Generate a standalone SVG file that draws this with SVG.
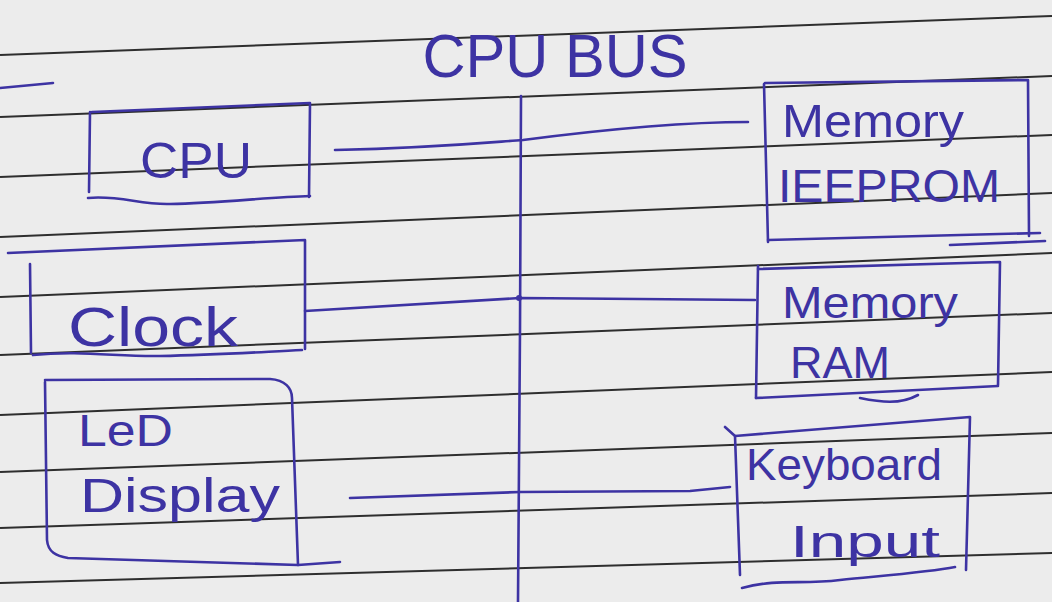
<svg xmlns="http://www.w3.org/2000/svg" width="1052" height="602" viewBox="0 0 1052 602">
<style>
.ink{fill:none;stroke:#3d33a3;stroke-width:2.6;stroke-linecap:round;stroke-linejoin:round}
.rule{fill:none;stroke:#2e2e2e;stroke-width:2}
.t{font-family:"Liberation Sans",Arial,sans-serif;fill:#3d33a3;font-weight:normal}
</style>
<rect width="1052" height="602" fill="#ececec"/>
<g id="paper-rules">
<path class="rule" d="M0 55 L1052 16"/>
<path class="rule" d="M0 117 L1052 76"/>
<path class="rule" d="M0 177 L1052 135"/>
<path class="rule" d="M0 237 L1052 193"/>
<path class="rule" d="M0 297 L1052 253"/>
<path class="rule" d="M0 355 L1052 313"/>
<path class="rule" d="M0 415 L1052 372"/>
<path class="rule" d="M0 472 L1052 433"/>
<path class="rule" d="M0 528 L1052 493"/>
<path class="rule" d="M0 583 L1052 553"/>
<path class="ink" d="M0 88 L53 83"/>
</g>
<g id="title">
<text class="t" x="555" y="77" font-size="62" text-anchor="middle" textLength="265" lengthAdjust="spacingAndGlyphs">CPU BUS</text>
</g>
<g id="connectors">
<path class="ink" d="M521 96 L520 330 L518 602"/>
<path class="ink" d="M335 150 C430 148 470 144 523 140 C600 130 680 122 748 122"/>
<path class="ink" d="M305 311 L520 298 L755 300"/>
<circle cx="519" cy="298" r="3" fill="#3d33a3"/>
<path class="ink" d="M350 498 L520 492 L690 491 L730 487"/>
</g>
<g id="node-cpu">
<path class="ink" d="M92 112 L310 103 L309 197"/>
<path class="ink" d="M90 112 L89 192"/>
<path class="ink" d="M88 198 C120 195 140 205 170 204 C220 203 270 197 310 196"/>
<text class="t" x="140" y="178" font-size="50" textLength="112" lengthAdjust="spacingAndGlyphs">CPU</text>
</g>
<g id="node-eeprom">
<path class="ink" d="M765 83 L1028 80 L1029 236"/>
<path class="ink" d="M764 84 L768 242"/>
<path class="ink" d="M768 240 L1040 233"/>
<path class="ink" d="M950 245 L1045 241"/>
<text class="t" x="782" y="137" font-size="46" textLength="182" lengthAdjust="spacingAndGlyphs">Memory</text>
<text class="t" x="778" y="202" font-size="46" textLength="222" lengthAdjust="spacingAndGlyphs">IEEPROM</text>
</g>
<g id="node-clock">
<path class="ink" d="M8 253 L305 240 L305 349"/>
<path class="ink" d="M30 264 L31 353"/>
<path class="ink" d="M33 355 C80 350 120 357 160 356 C220 355 260 352 302 350"/>
<text class="t" x="68" y="346" font-size="56" textLength="170" lengthAdjust="spacingAndGlyphs">Clock</text>
</g>
<g id="node-ram">
<path class="ink" d="M758 269 L1000 262 L998 385"/>
<path class="ink" d="M758 266 L756 398"/>
<path class="ink" d="M756 398 L998 386"/>
<path class="ink" d="M860 398 C880 402 900 405 918 395"/>
<text class="t" x="782" y="318" font-size="44" textLength="176" lengthAdjust="spacingAndGlyphs">Memory</text>
<text class="t" x="790" y="378" font-size="44" textLength="100" lengthAdjust="spacingAndGlyphs">RAM</text>
</g>
<g id="node-led">
<path class="ink" d="M45 380 L270 379 C285 380 292 388 292 398 L298 565"/>
<path class="ink" d="M45 382 L47 540 C48 552 56 556 68 558 L298 565 L340 562"/>
<text class="t" x="78" y="446" font-size="44" textLength="95" lengthAdjust="spacingAndGlyphs">LeD</text>
<text class="t" x="80" y="512" font-size="48" textLength="200" lengthAdjust="spacingAndGlyphs">Display</text>
</g>
<g id="node-keyboard">
<path class="ink" d="M735 436 L970 417 L966 570"/>
<path class="ink" d="M725 427 L735 436 L740 575"/>
<path class="ink" d="M742 588 C780 578 800 585 840 580 C890 575 930 572 955 567"/>
<text class="t" x="746" y="480" font-size="44" textLength="196" lengthAdjust="spacingAndGlyphs">Keyboard</text>
<text class="t" x="790" y="557" font-size="44" textLength="150" lengthAdjust="spacingAndGlyphs">Input</text>
</g>
</svg>
